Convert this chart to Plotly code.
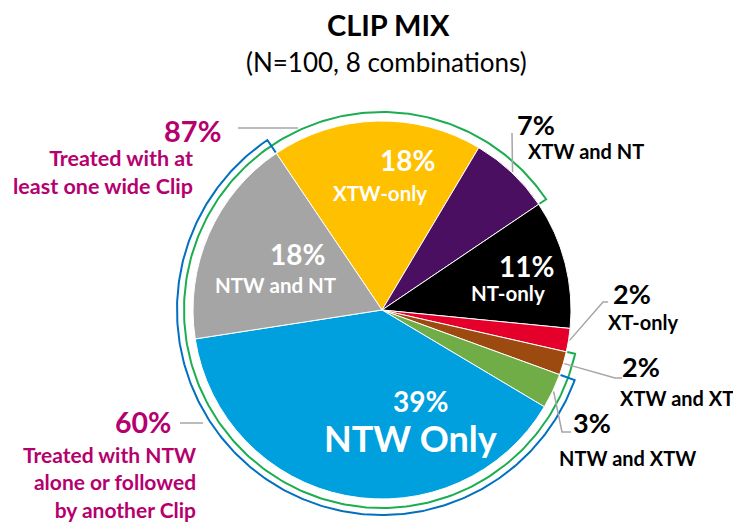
import numpy as np
import plotly.graph_objects as go

# slices, clockwise from the top-left
labels = ["XTW-only", "XTW and NT", "NT-only", "XT-only", "XTW and XT", "NTW and XTW", "NTW Only", "NTW and NT"]
values = [18, 7, 11, 2, 2, 3, 39, 18]
colors = ["#FFC000", "#4B0F62", "#000000", "#E4002B", "#9C4A10", "#70AD47", "#009FDE", "#A5A5A5"]

# bracket groups
wide_clip = ["XTW-only", "XTW and NT", "XTW and XT", "NTW and XTW", "NTW Only", "NTW and NT"]
ntw_first = ["NTW and XTW", "NTW Only", "NTW and NT"]

W, H = 741, 523
OFF = 8  # page body margin
FW, FH = W - OFF, H - OFF
CX, CY, R = 382, 310, 189
ROT = -34
FONT = "Lato"
MAGENTA = "#B5006E"
GREY = "#A6A6A6"

total = sum(values)
pct = [round(100 * v / total) for v in values]
start = np.cumsum([0] + values[:-1]) / total * 360 + ROT
mid = start + np.array(values) / total * 180


def pt(angle, rad):
    a = np.radians(angle)
    return CX + rad * np.sin(a), CY - rad * np.cos(a)


def bracket(group, rad):
    idx = [labels.index(g) for g in group]
    first = [i for i in idx if (i - 1) % len(labels) not in idx][0]
    a0 = start[first]
    a1 = a0 + sum(values[i] for i in idx) / total * 360
    ang = np.linspace(a0, a1, 300)
    xs, ys = pt(ang, rad)
    x0, y0 = pt(a0, R + 1)
    x1, y1 = pt(a1, R + 1)
    return [x0] + list(xs) + [x1], [y0] + list(ys) + [y1]


def text(x, y, s, size, color, **kw):
    fig.add_annotation(x=x, y=y, text=s, showarrow=False,
                       font=dict(family=FONT, size=size, color=color), **kw)


def line(xs, ys, color=GREY, width=1.5):
    fig.add_trace(go.Scatter(x=xs, y=ys, mode="lines", line=dict(color=color, width=width),
                             hoverinfo="skip", showlegend=False))


fig = go.Figure()
fig.add_trace(go.Pie(
    labels=labels, values=values, sort=False, direction="clockwise", rotation=ROT,
    marker=dict(colors=colors, line=dict(color="white", width=1)),
    textinfo="none", hoverinfo="label+percent", showlegend=False,
    domain=dict(x=[(CX - R - OFF) / FW, (CX + R - OFF) / FW],
                y=[(H - CY - R) / FH, (H - CY + R) / FH]),
))

gx, gy = bracket(wide_clip, 198)
line(gx, gy, "#1BAE50", 2)
bx, by = bracket(ntw_first, 205)
line(bx, by, "#0070C0", 2)

# inside labels: (pct x, pct y, name x, name y, name size)
inside = {
    "XTW-only": (407, 160, 380, 193, 20.5),
    "NTW and NT": (297, 254, 275, 285, 20.5),
    "NT-only": (526, 266, 508, 293, 20.5),
    "NTW Only": (420, 401, 410, 438, 36),
}
for name, (px, py, nx, ny, ns) in inside.items():
    i = labels.index(name)
    text(px, py, f"<b>{pct[i]}%</b>", 28, "white")
    text(nx, ny, f"<b>{name}</b>", ns, "white")

# outside labels: (pct x, pct y, name x, name y, leader elbow, leader end)
outside = {
    "XTW and NT": (536, 124, 586, 151, (512, 133), (512, 133)),
    "XT-only": (632, 293, 643, 322, (603, 302), (608, 302)),
    "XTW and XT": (641, 366, 677, 398, (615, 378), (622, 378)),
    "NTW and XTW": (592, 422, 627, 458, (562, 432), (571, 432)),
}
for name, (px, py, nx, ny, elbow, end) in outside.items():
    i = labels.index(name)
    sx, sy = pt(mid[i], R + 1)
    line([sx, elbow[0], end[0]], [sy, elbow[1], end[1]])
    text(px, py, f"<b>{pct[i]}%</b>", 27, "black")
    text(nx, ny, f"<b>{name}</b>", 20, "black")

# group callouts
wide_pct = round(100 * sum(values[labels.index(g)] for g in wide_clip) / total)
ntw_pct = round(100 * sum(values[labels.index(g)] for g in ntw_first) / total)

line([238, 298], [128, 128])
line([180, 203], [423, 423])
text(223, 130, f"<b>{wide_pct}%</b>", 29, MAGENTA, xanchor="right")
text(195, 172, "<b>Treated with at<br>least one wide Clip</b>", 21.5, MAGENTA,
     xanchor="right", align="right")
text(173, 422, f"<b>{ntw_pct}%</b>", 28.5, MAGENTA, xanchor="right")
text(198, 482, "<b>Treated with NTW<br>alone or followed<br>by another Clip</b>", 21, MAGENTA,
     xanchor="right", align="right")

# title
text(388, 24, "<b>CLIP MIX</b>", 29, "black")
text(386, 62, "(N=100, 8 combinations)", 26, "black")

fig.update_layout(
    width=FW, height=FH, margin=dict(l=0, r=0, t=0, b=0),
    paper_bgcolor="white", plot_bgcolor="white",
    xaxis=dict(range=[OFF, W], visible=False, domain=[0, 1], fixedrange=True),
    yaxis=dict(range=[H, OFF], visible=False, domain=[0, 1], fixedrange=True),
)
fig.write_html("out.html")
